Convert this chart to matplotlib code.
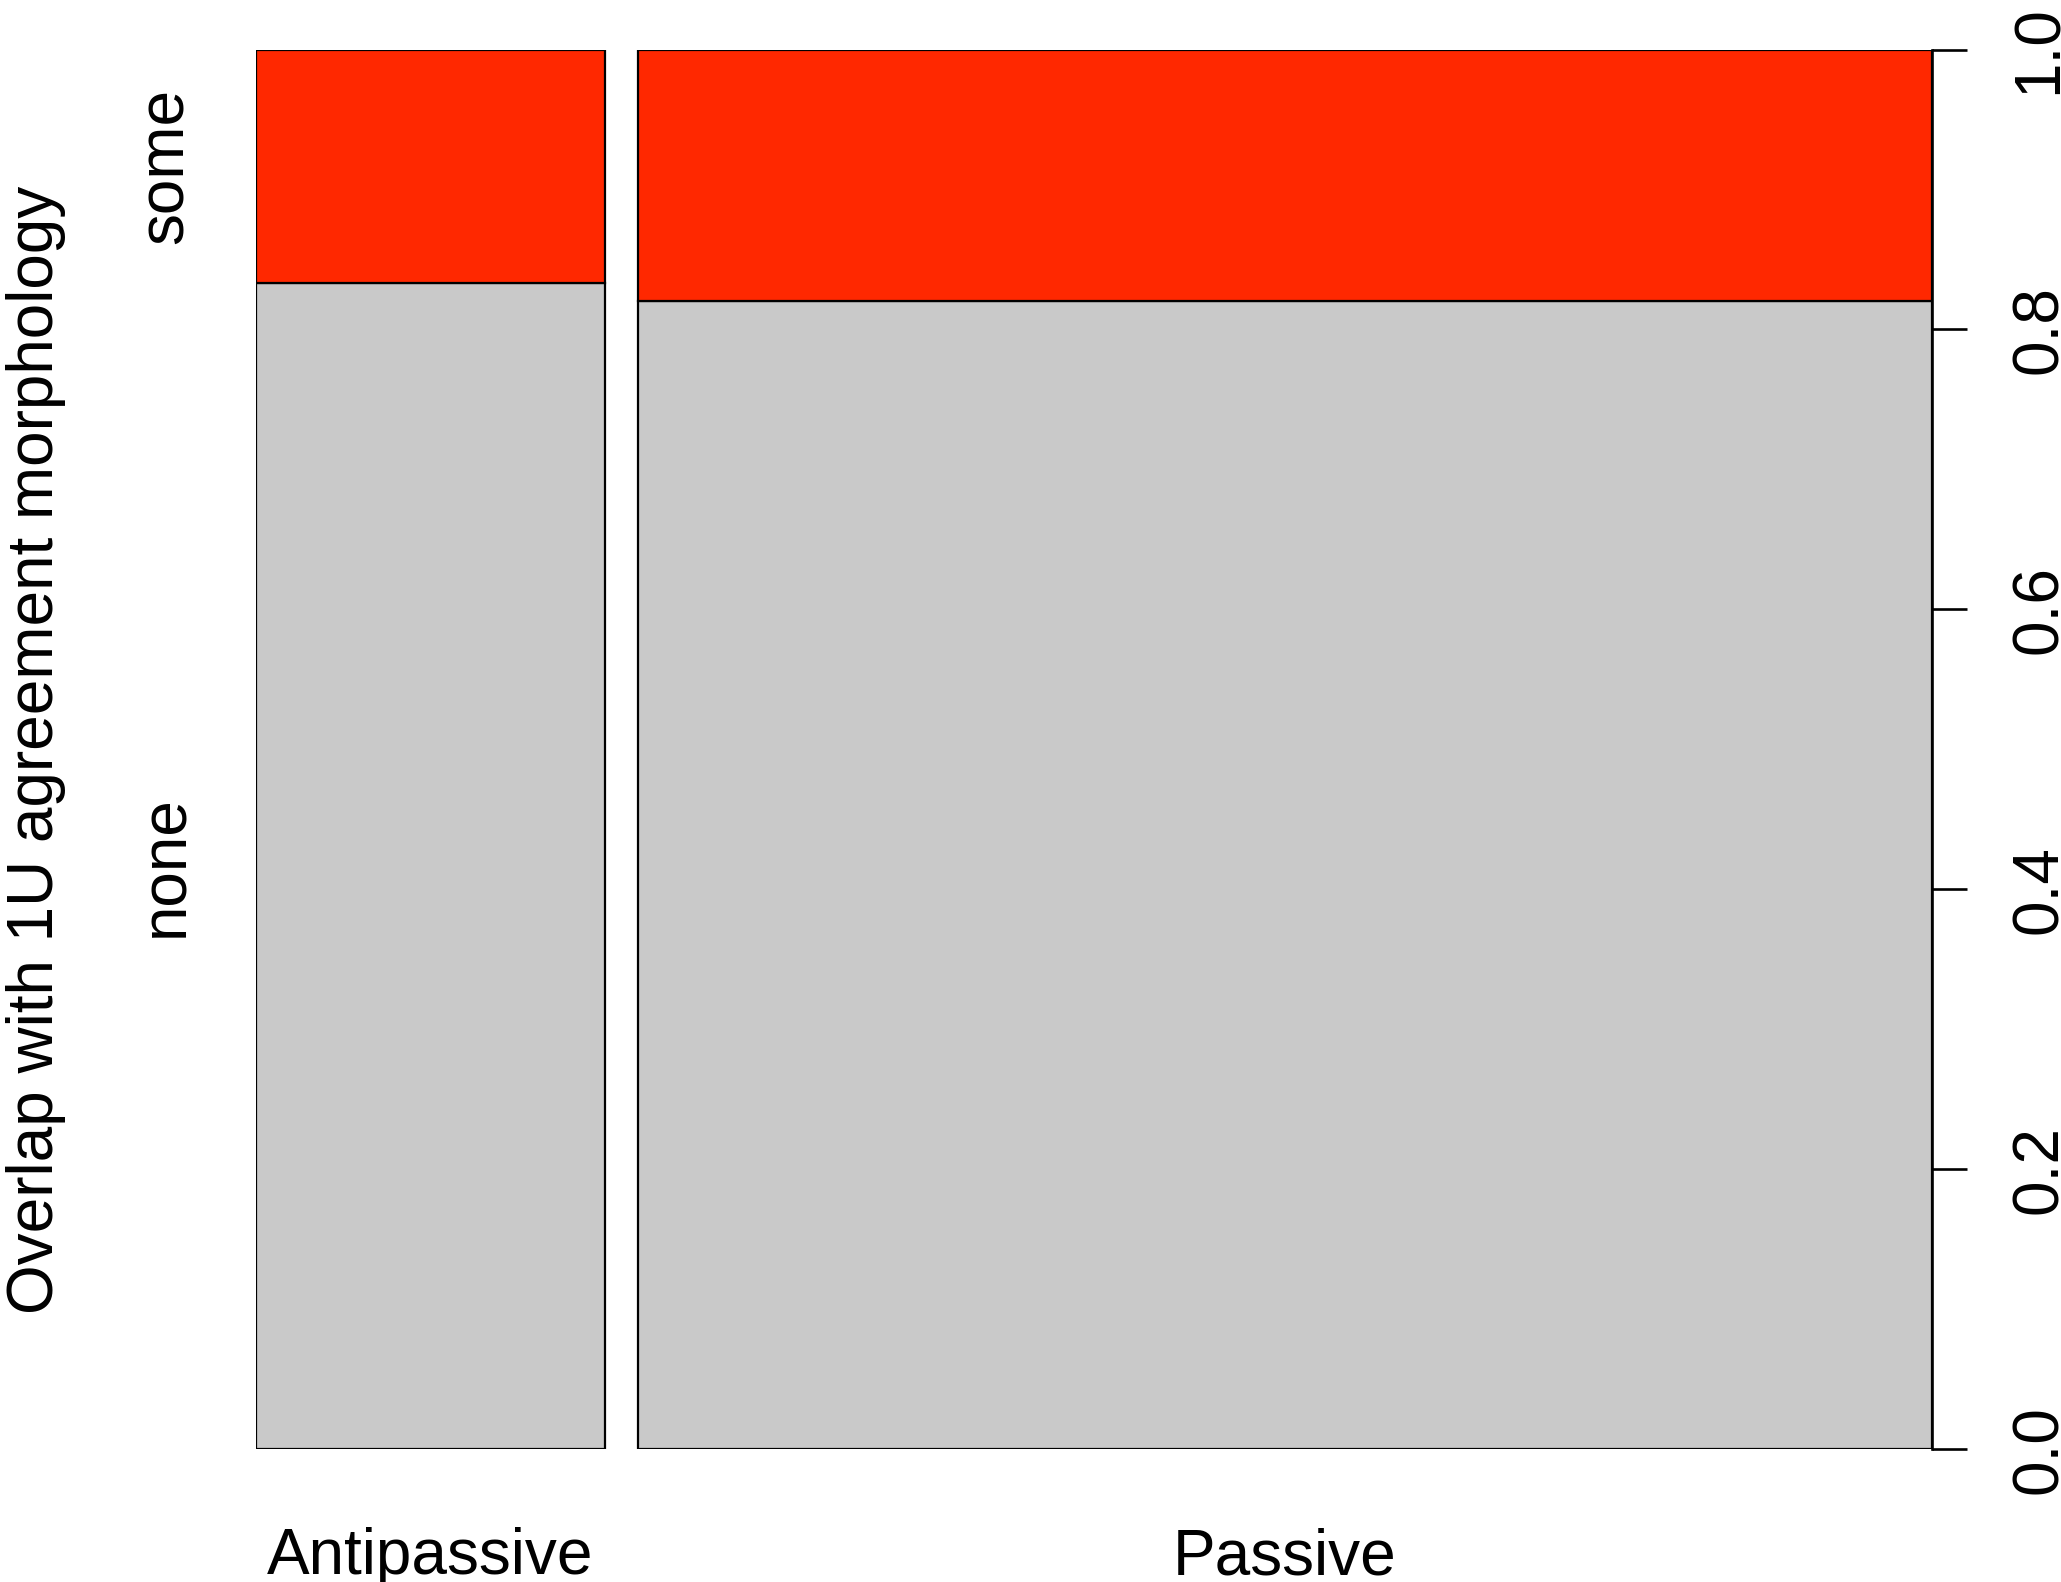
import matplotlib
matplotlib.use("Agg")
import matplotlib.pyplot as plt
import matplotlib.transforms as mtransforms
import numpy as np

plt.rcParams['font.family'] = ['Liberation Sans', 'DejaVu Sans']

# Spine plot data: counts of overlap with 1U agreement morphology per voice type
voices = ["Antipassive", "Passive"]
overlap_levels = ["none", "some"]
counts_none = [20, 73]
counts_some = [4, 16]
yticks = [0.0, 0.2, 0.4, 0.6, 0.8, 1.0]
ytick_labels = ["0.0", "0.2", "0.4", "0.6", "0.8", "1.0"]
ylabel = "Overlap with 1U agreement morphology"
level_colors = {"none": "#C9C9C9", "some": "#FF2800"}

none = np.array(counts_none, dtype=float)
some = np.array(counts_some, dtype=float)
totals = none + some
widths = totals / totals.sum()
gap = 0.02
lefts = np.concatenate([[0.0], np.cumsum(widths + gap)[:-1]])
frac_none = none / totals
frac_some = some / totals

W, H = 2061, 1582
fig = plt.figure(figsize=(W / 100, H / 100), dpi=100)
ax = fig.add_axes([255.7 / W, 1 - 1449.3 / H, (1931.7 - 255.7) / W, (1449.3 - 49.5) / H])

lw = 1.6
ax.bar(lefts, frac_none, width=widths, align="edge", color=level_colors["none"],
       edgecolor="black", linewidth=lw)
ax.bar(lefts, frac_some, width=widths, bottom=frac_none, align="edge",
       color=level_colors["some"], edgecolor="black", linewidth=lw)

ax.set_xlim(0, 1 + gap * (len(voices) - 1))
ax.set_ylim(0, 1)

for s in ["left", "top", "bottom"]:
    ax.spines[s].set_visible(False)
ax.spines["right"].set_linewidth(1.9)

# Right-hand proportion axis
ax.yaxis.tick_right()
ax.set_yticks(yticks)
ax.set_yticklabels(ytick_labels)
ax.tick_params(axis="y", which="major", direction="out", length=25, width=1.9,
               pad=65, labelsize=46, labelrotation=90)
for lbl in ax.get_yticklabels():
    lbl.set_rotation_mode("anchor")
    lbl.set_horizontalalignment("center")
    lbl.set_verticalalignment("baseline")

# Category labels beneath each column
ax.set_xticks(lefts + widths / 2)
ax.set_xticklabels(voices)
ax.tick_params(axis="x", length=0, pad=89.8, labelsize=46)
for lbl in ax.get_xticklabels():
    lbl.set_verticalalignment("baseline")

# Level labels at the segment midpoints of the first column
level_mid = [frac_none[0] / 2, frac_none[0] + frac_some[0] / 2]
trans = mtransforms.blended_transform_factory(fig.transFigure, ax.transData)
for name, ym in zip(overlap_levels, level_mid):
    ax.text(183 / W, ym, name, transform=trans, rotation=90, rotation_mode="anchor",
            ha="center", va="baseline", fontsize=46)

ax.set_ylabel(ylabel, fontsize=46)
ax.yaxis.set_label_position("left")
ax.yaxis.label.set_verticalalignment("baseline")
ax.yaxis.label.set_rotation_mode("anchor")
ax.yaxis.set_label_coords((53 - 255.7) / (1931.7 - 255.7), 0.5)

fig.savefig("out.png", dpi=100)
